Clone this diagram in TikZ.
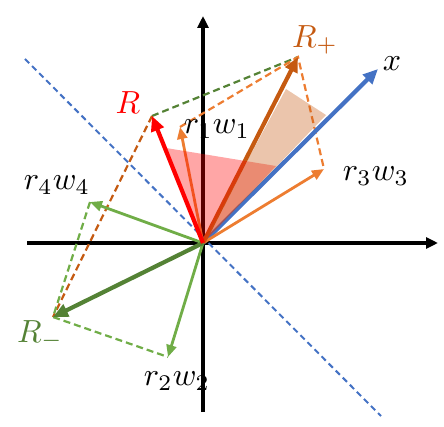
\documentclass[tikz,border=0pt]{standalone}
\usepackage{amsmath}
\usepackage{xcolor}
\usetikzlibrary{arrows.meta}

\definecolor{vecred}{RGB}{255,0,0}
\definecolor{vecorange}{RGB}{237,125,49}
\definecolor{vecbrown}{RGB}{197,90,17}
\definecolor{vecgreen}{RGB}{112,173,71}
\definecolor{vecdkgreen}{RGB}{84,130,53}
\definecolor{vecblue}{RGB}{68,114,196}

\tikzset{
  axisline/.style={line width=3.5pt, -{Triangle[length=12pt, width=11pt]}},
  bigvec/.style={line width=4.2pt, -{Triangle[length=15pt, width=13pt]}},
  smallvec/.style={line width=2.8pt, -{Triangle[length=12pt, width=10pt]}},
  guide/.style={line width=2.2pt, dash pattern=on 7pt off 4pt},
  lbl/.style={scale=3.2, inner sep=0pt},
}

\begin{document}
\begin{tikzpicture}[x=1pt, y=-1pt]
\useasboundingbox (0,0) rectangle (444,427);

% Points
\coordinate (O) at (203,243);
\coordinate (xl) at (27,243);
\coordinate (xr) at (438,243);
\coordinate (yb) at (203,412);
\coordinate (yt) at (203,16);
\coordinate (R) at (152,116);
\coordinate (Rp) at (298,57);
\coordinate (Rm) at (53,317);
\coordinate (w1) at (180,127);
\coordinate (w2) at (168,357);
\coordinate (w3) at (324,169);
\coordinate (w4) at (90,202);
\coordinate (X) at (378,69);
\coordinate (hl) at (25,59);
\coordinate (hr) at (381,416);

% Axes
\draw[axisline] (xl) -- (xr);
\draw[axisline] (yb) -- (yt);

% Hyperplane
\draw[vecblue, line width=2pt, dash pattern=on 6pt off 4pt] (hl) -- (hr);

% Parallelogram guides
\draw[guide, vecdkgreen] (R) -- (Rp);
\draw[guide, vecorange] (w1) -- (Rp) -- (w3);
\draw[guide, vecbrown] (R) -- (Rm);
\draw[guide, vecgreen] (w4) -- (Rm) -- (w2);

% Vectors
\draw[bigvec, vecblue] (O) -- (X);
\draw[smallvec, vecorange] (O) -- (w1);
\draw[smallvec, vecorange] (O) -- (w3);
\draw[smallvec, vecgreen] (O) -- (w2);
\draw[smallvec, vecgreen] (O) -- (w4);
\draw[bigvec, vecbrown] (O) -- (Rp);
\draw[bigvec, vecdkgreen] (O) -- (Rm);
\draw[bigvec, vecred] (O) -- (R);

% Angles to x
\fill[vecred, opacity=0.35] (O) -- (166,148) -- (276,166) -- cycle;
\fill[vecbrown, opacity=0.35] (O) -- (286,89) -- (326,115) -- cycle;

% Labels
\node[lbl, text=vecred] (lR) at (128,103) {$R$};
\node[lbl, text=vecbrown] (lRp) at (315,40) {$R_+$};
\node[lbl, text=vecdkgreen] (lRm) at (40,335) {$R_-$};
\node[lbl] (lX) at (392,64) {$x$};
\node[lbl] (l1) at (217,129) {$r_1w_1$};
\node[lbl] (l2) at (177,381) {$r_2w_2$};
\node[lbl] (l3) at (376,176) {$r_3w_3$};
\node[lbl] (l4) at (57,185) {$r_4w_4$};

\end{tikzpicture}
\end{document}
